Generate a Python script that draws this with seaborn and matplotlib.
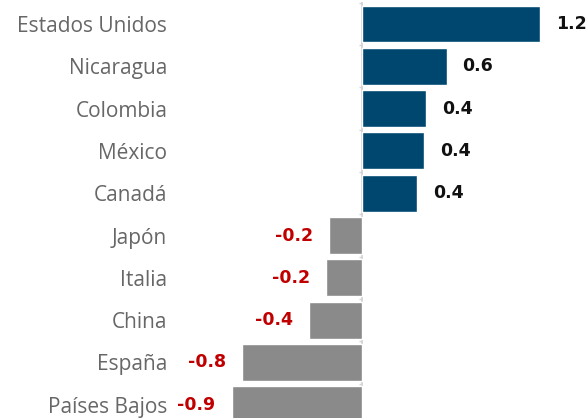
import numpy as np
import pandas as pd
import matplotlib
matplotlib.use("Agg")
import matplotlib.pyplot as plt
import seaborn as sns

# Datos
paises = ["Estados Unidos", "Nicaragua", "Colombia", "México", "Canadá",
          "Japón", "Italia", "China", "España", "Países Bajos"]
valores = [1.2, 0.57, 0.43, 0.42, 0.37, -0.22, -0.24, -0.36, -0.81, -0.88]

AZUL = "#00476f"
GRIS = "#8a8a8a"
ROJO = "#c00000"

sns.set_theme(style="white")
plt.rcParams["font.family"] = ["Open Sans", "DejaVu Sans"]

df = pd.DataFrame({"pais": paises, "valor": valores})
df["signo"] = np.where(df["valor"] >= 0, "pos", "neg")

fig = plt.figure(figsize=(5.88, 4.18), dpi=100)
ax = fig.add_axes([175 / 588, 0, 413 / 588, 1])

sns.barplot(data=df, x="valor", y="pais", hue="signo", orient="h",
            palette={"pos": AZUL, "neg": GRIS}, dodge=False, width=0.87,
            legend=False, ax=ax, saturation=1)

xmin, xmax = -1.261, 1.524
ax.set_xlim(xmin, xmax)
ax.set_ylim(9.314, -0.567)

# etiquetas de categorías
ax.set_xlabel("")
ax.set_ylabel("")
ax.set_xticks([])
ax.tick_params(axis="y", length=0, pad=5.5, labelsize=15, labelcolor="#676767")
for s in ax.spines.values():
    s.set_visible(False)

# eje en cero con marcas entre barras
cero = (0 - xmin) / (xmax - xmin)
sec = ax.secondary_yaxis(cero)
sec.set_yticks(np.arange(-0.5, len(paises)))
sec.tick_params(axis="y", length=2.5, width=1, color="#d4d4d4",
                labelleft=False, labelright=False)
sec.spines["left"].set_color("#d4d4d4")
sec.spines["left"].set_linewidth(1.3)
sec.spines["left"].set_bounds(-0.5, len(paises) - 0.5)

# valores
for cont in ax.containers:
    vals = cont.datavalues
    color = "#111111" if vals[0] >= 0 else ROJO
    ax.bar_label(cont, labels=[f"{v:.1f}" for v in vals], padding=11.5,
                 fontsize=12.5, fontweight="bold", color=color,
                 family=["DejaVu Sans"])

fig.savefig("out.png", dpi=100)
